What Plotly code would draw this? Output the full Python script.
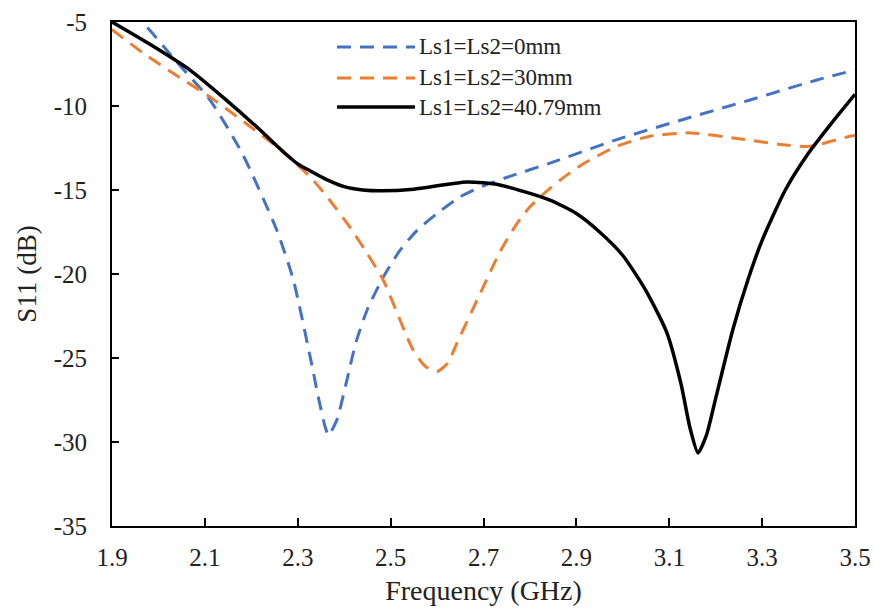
import plotly.graph_objects as go

# ---- data ----
freq_0mm = [1.90, 1.965, 2.04, 2.11, 2.18, 2.255, 2.29, 2.331, 2.344, 2.359, 2.366, 2.384, 2.406,
            2.425, 2.45, 2.484, 2.52, 2.557, 2.60, 2.65, 2.70, 2.75, 2.843, 2.987, 3.13, 3.274, 3.418, 3.50]
s11_0mm = [-3.6, -5.0, -7.4, -9.6, -12.8, -17.4, -20.3, -25.5, -27.3, -29.1, -29.6, -28.7, -26.3,
           -24.1, -22.1, -20.2, -18.6, -17.4, -16.4, -15.4, -14.75, -14.25, -13.4, -12.0, -10.8, -9.64, -8.45, -7.86]

freq_30mm = [1.90, 1.967, 2.04, 2.111, 2.255, 2.326, 2.363, 2.412, 2.45, 2.484, 2.548, 2.575, 2.60,
             2.623, 2.643, 2.699, 2.735, 2.772, 2.80, 2.843, 2.88, 2.914, 2.987, 3.058, 3.145, 3.237,
             3.345, 3.403, 3.489, 3.50]
s11_30mm = [-5.45, -6.85, -8.2, -9.46, -12.44, -14.2, -15.4, -17.2, -18.8, -20.36, -24.5, -25.5, -25.8,
            -25.3, -24.1, -20.8, -18.7, -17.0, -16.0, -14.9, -14.1, -13.45, -12.4, -11.8, -11.6, -11.9,
            -12.3, -12.4, -11.8, -11.75]

freq_4079mm = [1.90, 1.98, 2.068, 2.14, 2.219, 2.26, 2.30, 2.326, 2.36, 2.40, 2.44, 2.48, 2.55, 2.664,
               2.735, 2.843, 2.90, 2.95, 3.00, 3.05, 3.095, 3.125, 3.145, 3.162, 3.18, 3.20, 3.237,
               3.27, 3.30, 3.35, 3.40, 3.45, 3.50]
s11_4079mm = [-5.0, -6.3, -7.86, -9.5, -11.43, -12.5, -13.45, -13.85, -14.35, -14.8, -15.0, -15.05, -14.95,
              -14.52, -14.7, -15.6, -16.4, -17.5, -18.9, -21.0, -23.5, -26.5, -29.2, -30.65, -29.6, -27.4,
              -23.3, -20.3, -18.0, -15.0, -12.8, -11.0, -9.3]

series_names = ["Ls1=Ls2=0mm", "Ls1=Ls2=30mm", "Ls1=Ls2=40.79mm"]
x_ticks = [1.9, 2.1, 2.3, 2.5, 2.7, 2.9, 3.1, 3.3, 3.5]
y_ticks = [-35, -30, -25, -20, -15, -10, -5]

BLUE = "#4472C4"
ORANGE = "#ED7D31"
BLACK = "#000000"
FONT = "Liberation Serif"

fig = go.Figure()
fig.add_trace(go.Scatter(x=freq_0mm, y=s11_0mm, mode="lines", name=series_names[0],
                         line=dict(color=BLUE, width=3, dash="14px,9px", shape="spline", smoothing=0.6)))
fig.add_trace(go.Scatter(x=freq_30mm, y=s11_30mm, mode="lines", name=series_names[1],
                         line=dict(color=ORANGE, width=3, dash="14px,9px", shape="spline", smoothing=0.6)))
fig.add_trace(go.Scatter(x=freq_4079mm, y=s11_4079mm, mode="lines", name=series_names[2],
                         line=dict(color=BLACK, width=3.5, shape="spline", smoothing=0.6)))

# manual legend (long line samples like the reference)
legend_rows = [0.9504, 0.8889, 0.8313]
legend_styles = [(BLUE, 3, "14px,9px"), (ORANGE, 3, "14px,9px"), (BLACK, 3.5, "solid")]
shapes = []
annotations = []
for name, yr, (c, w, d) in zip(series_names, legend_rows, legend_styles):
    shapes.append(dict(type="line", xref="paper", yref="paper", x0=0.3028, x1=0.4078, y0=yr, y1=yr,
                       line=dict(color=c, width=w, dash=d)))
    annotations.append(dict(xref="paper", yref="paper", x=0.4105, y=yr, text=name, showarrow=False,
                            xanchor="left", yanchor="middle", font=dict(family=FONT, size=23, color="#222")))

fig.update_layout(
    width=875, height=615,
    margin=dict(l=112, r=20, t=22, b=89, autoexpand=False),
    paper_bgcolor="white", plot_bgcolor="white",
    showlegend=False,
    shapes=shapes, annotations=annotations,
    font=dict(family=FONT, color="#222"),
)
fig.update_xaxes(
    range=[1.9, 3.5], tickvals=x_ticks, ticktext=[f"{v:.1f}" for v in x_ticks],
    ticks="inside", ticklen=8, tickwidth=1.5, tickcolor="black",
    showline=True, linecolor="black", linewidth=2, mirror=True,
    showgrid=False, zeroline=False, automargin=False,
    tickfont=dict(family=FONT, size=25, color="#222"), ticklabelstandoff=8,
    title=dict(text="Frequency (GHz)", font=dict(family=FONT, size=28, color="#222"), standoff=10),
)
fig.update_yaxes(
    range=[-35, -5], tickvals=y_ticks, ticktext=[str(v) for v in y_ticks],
    ticks="inside", ticklen=7, tickwidth=1.5, tickcolor="black",
    showline=True, linecolor="black", linewidth=2, mirror=True,
    showgrid=False, zeroline=False, automargin=False,
    tickfont=dict(family=FONT, size=25, color="#222"), ticklabelstandoff=18,
    title=dict(text="S11 (dB)", font=dict(family=FONT, size=27, color="#222"), standoff=9),
)

fig.write_html("out.html")
